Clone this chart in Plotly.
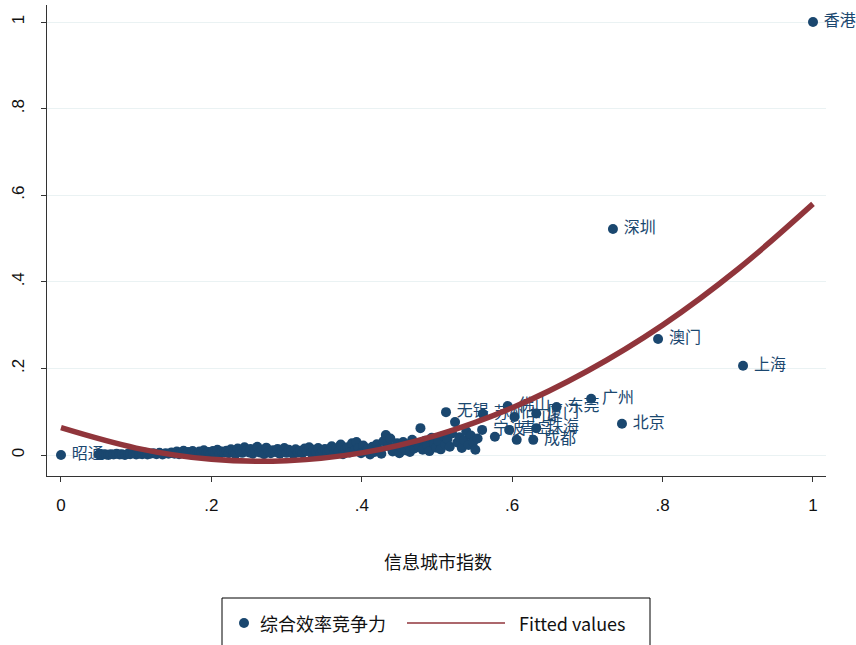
import plotly.graph_objects as go

# ---- data -------------------------------------------------------------
# labelled cities: information-city index vs. composite efficiency score
city_names = ["昭通", "无锡", "苏州", "佛山", "中山", "宁波", "青岛", "厦门", "珠海",
              "成都", "东莞", "广州", "北京", "深圳", "澳门", "上海", "香港"]
city_x = [0.000, 0.512, 0.561, 0.594, 0.603, 0.560, 0.596, 0.632, 0.632,
          0.628, 0.659, 0.705, 0.746, 0.734, 0.794, 0.907, 1.000]
city_y = [0.000, 0.099, 0.095, 0.113, 0.088, 0.058, 0.058, 0.096, 0.062,
          0.035, 0.111, 0.130, 0.072, 0.522, 0.268, 0.206, 1.000]

# remaining (unlabelled) cities
other_x = [
    0.050, 0.054, 0.057, 0.060, 0.063, 0.066, 0.070, 0.074, 0.078, 0.081,
    0.085, 0.089, 0.092, 0.096, 0.100, 0.104, 0.108, 0.112, 0.115, 0.119,
    0.123, 0.127, 0.131, 0.135, 0.139, 0.143, 0.147,
    0.151, 0.154, 0.157, 0.160, 0.163, 0.166, 0.169, 0.172, 0.175, 0.178,
    0.181, 0.184, 0.187, 0.190, 0.193, 0.196, 0.199, 0.202, 0.205, 0.208,
    0.211, 0.214, 0.217, 0.220, 0.223, 0.226, 0.229, 0.232, 0.235, 0.238,
    0.241, 0.244, 0.247, 0.250,
    0.252, 0.255, 0.258, 0.261, 0.264, 0.267, 0.270, 0.273, 0.276, 0.279,
    0.282, 0.285, 0.288, 0.291, 0.294, 0.297, 0.300, 0.303, 0.306, 0.309,
    0.312, 0.315, 0.318, 0.321, 0.324, 0.327, 0.330, 0.333, 0.336, 0.339,
    0.342, 0.345, 0.348, 0.351, 0.354,
    0.357, 0.360, 0.363, 0.366, 0.369, 0.372, 0.375, 0.378, 0.381, 0.384,
    0.387, 0.390, 0.393, 0.396, 0.399, 0.402, 0.405, 0.408, 0.411, 0.414,
    0.417, 0.420, 0.423, 0.426, 0.429, 0.432, 0.435, 0.438, 0.441, 0.444,
    0.447, 0.450,
    0.452, 0.455, 0.458, 0.461, 0.464, 0.467, 0.470, 0.473, 0.476, 0.478,
    0.481, 0.484, 0.487, 0.490, 0.493, 0.496, 0.499, 0.502, 0.505, 0.508,
    0.511, 0.514, 0.517, 0.520, 0.524, 0.527, 0.530, 0.533, 0.536, 0.539,
    0.542, 0.545, 0.548, 0.551, 0.554, 0.577, 0.606,
]
other_y = [
    0.001, 0.000, 0.002, 0.001, 0.000, 0.002, 0.001, 0.003, 0.001, 0.002,
    0.000, 0.003, 0.002, 0.004, 0.001, 0.003, 0.002, 0.005, 0.001, 0.003,
    0.004, 0.002, 0.005, 0.001, 0.004, 0.003, 0.006,
    0.003, 0.008, 0.002, 0.006, 0.010, 0.004, 0.007, 0.002, 0.009, 0.005,
    0.003, 0.008, 0.006, 0.011, 0.004, 0.007, 0.002, 0.009, 0.005, 0.012,
    0.003, 0.008, 0.006, 0.010, 0.004, 0.013, 0.007, 0.002, 0.015, 0.009,
    0.005, 0.018, 0.011, 0.006,
    0.014, 0.003, 0.009, 0.019, 0.006, 0.012, 0.002, 0.017, 0.008, 0.004,
    0.011, 0.007, 0.014, 0.003, 0.010, 0.016, 0.005, 0.012, 0.008, 0.002,
    0.013, 0.006, 0.010, 0.004, 0.015, 0.009, 0.018, 0.005, 0.012, 0.007,
    0.016, 0.003, 0.010, 0.014, 0.006,
    0.011, 0.020, 0.004, 0.015, 0.008, 0.024, 0.002, 0.013, 0.018, 0.006,
    0.027, 0.010, 0.030, 0.016, 0.004, 0.022, 0.009, 0.014, 0.001, 0.019,
    0.007, 0.025, 0.012, 0.003, 0.032, 0.046, 0.021, 0.038, 0.008, 0.016,
    0.027, 0.004,
    0.018, 0.030, 0.011, 0.024, 0.007, 0.035, 0.015, 0.028, 0.020, 0.062,
    0.012, 0.033, 0.022, 0.009, 0.040, 0.026, 0.017, 0.031, 0.013, 0.044,
    0.024, 0.037, 0.019, 0.050, 0.076, 0.029, 0.041, 0.016, 0.034, 0.055,
    0.023, 0.045, 0.030, 0.012, 0.038, 0.042, 0.035,
]

# quadratic fitted values, sampled along the index
fit_x = [0.0, 0.1, 0.2, 0.3, 0.4, 0.5, 0.6, 0.7, 0.8, 0.9, 1.0]
fit_y = [0.063, 0.016, -0.010, -0.013, 0.005, 0.046, 0.109, 0.194, 0.300, 0.429, 0.580]

x_ticks = [0, 0.2, 0.4, 0.6, 0.8, 1]
x_tick_text = ["0", ".2", ".4", ".6", ".8", "1"]
y_ticks = [0, 0.2, 0.4, 0.6, 0.8, 1]
y_tick_text = ["0", ".2", ".4", ".6", ".8", "1"]

series_name = "综合效率竞争力"
fit_name = "Fitted values"
x_title = "信息城市指数"

# ---- styling ----------------------------------------------------------
NAVY = "#1a476f"
MAROON = "#90353b"
CJK = "Noto Sans CJK SC"

W, H = 856, 645
L, R, T, B = 47, 30, 5, 169
PW, PH = W - L - R, H - T - B


def px_x(p):
    return (p - L) / PW


def px_y(p):
    return (H - B - p) / PH


fig = go.Figure()

fig.add_trace(go.Scatter(
    x=other_x, y=other_y, mode="markers",
    marker=dict(color=NAVY, size=10, line=dict(width=0)),
    showlegend=False, hoverinfo="skip",
))
fig.add_trace(go.Scatter(
    x=city_x, y=city_y, mode="markers+text", text=city_names,
    texttemplate=" %{text}", textposition="middle right",
    textfont=dict(family=CJK, size=16, color=NAVY),
    marker=dict(color=NAVY, size=10, line=dict(width=0)),
    cliponaxis=False, showlegend=False,
))
fig.add_trace(go.Scatter(
    x=fit_x, y=fit_y, mode="lines", line=dict(color=MAROON, width=5.5, shape="spline"),
    showlegend=False,
))

# legend box drawn by hand so the line sample has its full length
leg_l, leg_r, leg_t, leg_b = 222, 650, 598, 652
leg_cy = 623
fig.add_shape(type="rect", xref="paper", yref="paper",
              x0=px_x(leg_l), x1=px_x(leg_r), y0=px_y(leg_b), y1=px_y(leg_t),
              line=dict(color="#000000", width=1), fillcolor="white", layer="above")
fig.add_shape(type="circle", xref="paper", yref="paper",
              x0=px_x(244 - 5), x1=px_x(244 + 5), y0=px_y(leg_cy + 5), y1=px_y(leg_cy - 5),
              line=dict(width=0), fillcolor=NAVY)
fig.add_shape(type="line", xref="paper", yref="paper",
              x0=px_x(407), x1=px_x(505), y0=px_y(leg_cy), y1=px_y(leg_cy),
              line=dict(color=MAROON, width=1.5))
fig.add_annotation(xref="paper", yref="paper", x=px_x(258), y=px_y(leg_cy),
                   xanchor="left", yanchor="middle", showarrow=False,
                   text=series_name, font=dict(family=CJK, size=18, color="#111"))
fig.add_annotation(xref="paper", yref="paper", x=px_x(517), y=px_y(leg_cy),
                   xanchor="left", yanchor="middle", showarrow=False,
                   text=fit_name, font=dict(family=CJK, size=18, color="#111"))

# x axis title
fig.add_annotation(xref="paper", yref="paper", x=px_x(438), y=px_y(561),
                   xanchor="center", yanchor="middle", showarrow=False,
                   text=x_title, font=dict(family=CJK, size=18, color="#111"))

fig.update_layout(
    width=W, height=H,
    margin=dict(l=L, r=R, t=T, b=B, pad=0),
    paper_bgcolor="white", plot_bgcolor="white",
    font=dict(family="Liberation Sans", size=16, color="#111"),
    showlegend=False,
    xaxis=dict(
        range=[-0.0186, 1.0173], tickvals=x_ticks, ticktext=x_tick_text,
        showline=True, linecolor="#333", linewidth=1, ticks="outside", ticklen=5,
        tickcolor="#333", showgrid=False, zeroline=False, ticklabelstandoff=9,
        tickfont=dict(family="Liberation Sans", size=17, color="#111"),
    ),
    yaxis=dict(
        range=[-0.0485, 1.0393], tickvals=y_ticks, ticktext=y_tick_text,
        tickangle=-90, showline=True, linecolor="#333", linewidth=1,
        ticks="outside", ticklen=5, tickcolor="#333", ticklabelstandoff=10,
        showgrid=True, gridcolor="#eaf2f3", gridwidth=1, zeroline=False,
        tickfont=dict(family="Liberation Sans", size=17, color="#111"),
    ),
)

fig.write_html("out.html")
